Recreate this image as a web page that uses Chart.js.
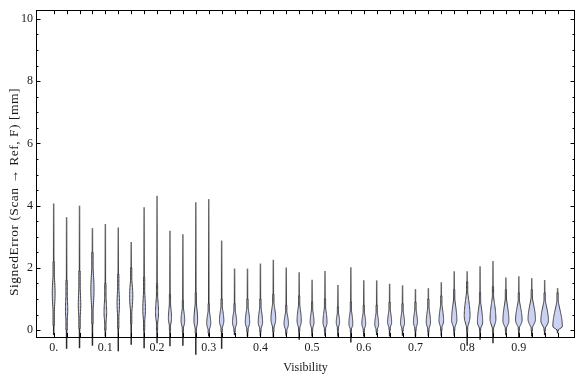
<!DOCTYPE html>
<html>
<head>
<meta charset="utf-8">
<script src="https://cdn.jsdelivr.net/npm/chart.js@4.4.0/dist/chart.umd.min.js"></script>
<style>
  html, body { margin: 0; padding: 0; background: #fff; }
</style>
</head>
<body>
<canvas id="myChart" width="576" height="377"></canvas>
<script>
// one violin per visibility bin
const visibility = [0, 0.025, 0.05, 0.075, 0.1, 0.125, 0.15, 0.175, 0.2, 0.225,
  0.25, 0.275, 0.3, 0.325, 0.35, 0.375, 0.4, 0.425, 0.45, 0.475,
  0.5, 0.525, 0.55, 0.575, 0.6, 0.625, 0.65, 0.675, 0.7, 0.725,
  0.75, 0.775, 0.8, 0.825, 0.85, 0.875, 0.9, 0.925, 0.95, 0.975];
const minError = [-0.16, -0.6, -0.58, -0.5, -0.2, -0.68, -0.47, -0.58, -0.42, -0.52,
  -0.5, -0.79, -0.2, -0.6, -0.16, -0.2, -0.18, -0.25, -0.18, -0.31,
  -0.2, -0.18, -0.2, -0.4, -0.2, -0.16, -0.2, -0.18, -0.2, -0.18,
  -0.18, -0.18, -0.5, -0.31, -0.42, -0.16, -0.25, -0.2, -0.16, -0.1];
const maxError = [4.07, 3.63, 4.0, 3.28, 3.41, 3.3, 2.83, 3.95, 4.32, 3.19,
  3.08, 4.11, 4.21, 2.88, 1.98, 1.98, 2.14, 2.26, 2.01, 1.86,
  1.62, 1.9, 1.45, 2.02, 1.6, 1.6, 1.49, 1.44, 1.32, 1.35,
  1.54, 1.89, 1.89, 2.05, 2.22, 1.69, 1.73, 1.67, 1.61, 1.35];
const modeError = [1.2, 0.65, 0.8, 1.3, 0.55, 0.85, 1.1, 0.65, 0.55, 0.38,
  0.3, 0.3, 0.22, 0.3, 0.25, 0.25, 0.25, 0.35, 0.2, 0.3,
  0.25, 0.25, 0.25, 0.2, 0.2, 0.18, 0.25, 0.22, 0.25, 0.25,
  0.3, 0.32, 0.45, 0.25, 0.35, 0.3, 0.32, 0.35, 0.3, 0.12];
const bulgeLow = [0.15, 0.0, 0.05, 0.2, 0.0, 0.05, 0.2, 0.0, 0.0, 0.0,
  -0.05, -0.1, -0.1, -0.05, -0.05, -0.05, -0.05, -0.05, -0.1, -0.05,
  -0.05, -0.05, 0.0, -0.05, -0.05, -0.05, 0.0, -0.02, -0.02, -0.05,
  -0.02, -0.02, -0.05, -0.02, -0.05, -0.02, 0.0, -0.02, -0.02, -0.02];
const bulgeHigh = [2.2, 1.6, 1.9, 2.5, 1.5, 1.8, 2.0, 1.7, 1.5, 1.15,
  0.95, 1.2, 0.85, 1.0, 0.85, 1.0, 1.0, 1.15, 0.8, 1.1,
  0.9, 1.0, 0.75, 0.9, 0.8, 0.8, 0.9, 0.85, 0.9, 1.0,
  1.1, 1.3, 1.55, 1.2, 1.4, 1.3, 1.2, 1.3, 1.2, 1.2];
const peakDensity = [1.6, 1.3, 1.4, 1.8, 1.5, 1.4, 1.8, 1.5, 1.7, 1.8,
  2.1, 2.1, 2.3, 2.5, 2.4, 2.5, 2.5, 2.7, 2.5, 2.4,
  2.2, 2.3, 1.9, 2.2, 2.2, 2.2, 2.3, 2.3, 2.3, 2.4,
  2.6, 3.0, 3.3, 3.0, 3.3, 3.4, 3.7, 4.2, 4.3, 5.4];

const xTickValues = [0, 0.1, 0.2, 0.3, 0.4, 0.5, 0.6, 0.7, 0.8, 0.9];
const xTickLabels = ["0.", "0.1", "0.2", "0.3", "0.4", "0.5", "0.6", "0.7", "0.8", "0.9"];
const yTickValues = [0, 2, 4, 6, 8, 10];
const yTitle = "SignedError (Scan \u2192 Ref, F) [mm]";

const densityUnit = 0.0017; // x-units per density unit
const serif = "'Liberation Serif', 'DejaVu Serif', serif";

const violinPlugin = {
  id: "violins",
  afterDraw(chart) {
    const ctx = chart.ctx;
    const xs = chart.scales.x;
    const ys = chart.scales.y;
    const area = chart.chartArea;
    const unitPx = xs.getPixelForValue(densityUnit) - xs.getPixelForValue(0);

    ctx.save();
    visibility.forEach((v, i) => {
      const cx = xs.getPixelForValue(v);
      const yTop = ys.getPixelForValue(maxError[i]);
      const yMode = ys.getPixelForValue(modeError[i]);
      // tail line, a little lighter towards the top
      const grad = ctx.createLinearGradient(0, yTop, 0, yMode);
      grad.addColorStop(0, "#6e6e6e");
      grad.addColorStop(1, "#2a2a2a");
      ctx.strokeStyle = grad;
      ctx.lineWidth = 1.5;
      ctx.beginPath();
      ctx.moveTo(cx, ys.getPixelForValue(minError[i]));
      ctx.lineTo(cx, yTop);
      ctx.stroke();

      // bulge
      const m = modeError[i], lo = bulgeLow[i], hi = bulgeHigh[i];
      const w = peakDensity[i] * unitPx;
      const pts = [];
      const n = 40;
      for (let k = 0; k <= n; k++) {
        const y = lo + (hi - lo) * k / n;
        const t = y < m ? (m - y) / (m - lo) : (y - m) / (hi - m);
        const s = 0.5 * (1 + Math.cos(Math.PI * Math.min(1, t)));
        pts.push([ys.getPixelForValue(y), Math.max(0.6, w * s)]);
      }
      ctx.beginPath();
      pts.forEach((p, k) => {
        if (k === 0) ctx.moveTo(cx + p[1], p[0]);
        else ctx.lineTo(cx + p[1], p[0]);
      });
      for (let k = pts.length - 1; k >= 0; k--) ctx.lineTo(cx - pts[k][1], pts[k][0]);
      ctx.closePath();
      ctx.fillStyle = "rgb(203, 210, 243)";
      ctx.fill();
      ctx.strokeStyle = "#404040";
      ctx.lineWidth = 1;
      ctx.stroke();
    });

    // frame
    ctx.strokeStyle = "#000";
    ctx.lineWidth = 1;
    ctx.strokeRect(Math.round(area.left) + 0.5, Math.round(area.top) + 0.5,
      Math.round(area.right - area.left) - 1, Math.round(area.bottom - area.top));

    // frame ticks
    ctx.beginPath();
    visibility.forEach((v) => {
      const x = Math.round(xs.getPixelForValue(v)) + 0.5;
      ctx.moveTo(x, area.top); ctx.lineTo(x, area.top + 4);
      ctx.moveTo(x, area.bottom); ctx.lineTo(x, area.bottom - 4);
    });
    for (let t = 0; t <= 10; t += 0.5) {
      const y = Math.round(ys.getPixelForValue(t)) + 0.5;
      const len = t % 2 === 0 ? 4.5 : 2.5;
      ctx.moveTo(area.left, y); ctx.lineTo(area.left + len, y);
      ctx.moveTo(area.right, y); ctx.lineTo(area.right - len, y);
    }
    ctx.stroke();

    // y axis title
    ctx.translate(14, 192);
    ctx.rotate(-Math.PI / 2);
    ctx.font = "13.5px " + serif;
    ctx.letterSpacing = "0.5px";
    ctx.fillStyle = "#1a1a1a";
    ctx.textAlign = "center";
    ctx.textBaseline = "middle";
    ctx.fillText(yTitle, 0, 0);
    ctx.restore();
  },
};

const options = {
  responsive: false,
  animation: false,
  devicePixelRatio: 1,
  layout: { padding: { top: 3, right: 1, left: 0, bottom: 0 } },
  plugins: { legend: { display: false }, tooltip: { enabled: false } },
  scales: {
    x: {
      type: "linear",
      min: -0.0342,
      max: 1.0087,
      afterBuildTicks: (s) => { s.ticks = xTickValues.map((v) => ({ value: v })); },
      afterFit: (s) => { s.height = 40; },
      ticks: {
        callback: (v, i) => xTickLabels[i],
        font: { family: serif, size: 12 },
        color: "#1a1a1a",
        padding: 4,
        maxRotation: 0,
        autoSkip: false,
      },
      grid: { display: false, drawTicks: false },
      border: { display: false },
      title: {
        display: true,
        text: "Visibility",
        font: { family: serif, size: 12 },
        color: "#1a1a1a",
        padding: { top: 0, bottom: 2 },
      },
    },
    y: {
      type: "linear",
      min: -0.22,
      max: 10.28,
      afterBuildTicks: (s) => { s.ticks = yTickValues.map((v) => ({ value: v })); },
      afterFit: (s) => { s.width = 36; },
      ticks: {
        font: { family: serif, size: 12 },
        color: "#1a1a1a",
        padding: 3,
      },
      grid: { display: false, drawTicks: false },
      border: { display: false },
    },
  },
};

new Chart(document.getElementById("myChart"), {
  type: "scatter",
  data: {
    datasets: [{
      data: visibility.map((v, i) => ({ x: v, y: modeError[i] })),
      pointRadius: 0,
      showLine: false,
    }],
  },
  options,
  plugins: [violinPlugin],
});
</script>
</body>
</html>
